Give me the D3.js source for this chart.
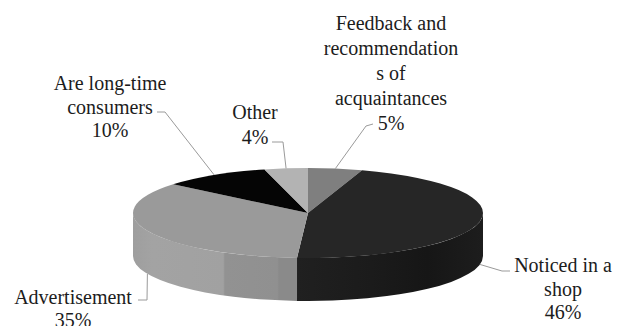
<!DOCTYPE html>
<html>
<head>
<meta charset="utf-8">
<script src="https://cdn.jsdelivr.net/npm/d3@7"></script>
</head>
<body style="margin:0;background:#fff">
<script>
// data
var categories = ["Feedback and recommendations of acquaintances", "Noticed in a shop", "Advertisement", "Are long-time consumers", "Other"];
var values = [5, 46, 35, 10, 4];
var labelText = [
    ["Feedback and", "recommendation", "s of", "acquaintances"],
    ["Noticed in a", "shop"],
    ["Advertisement"],
    ["Are long-time", "consumers"],
    ["Other"]
];

// styles
var topColors = ["#7f7f7f", "#262626", "#9a9a9a", "#050505", "#b3b3b3"];
var sideGrad = [
    null,
    [["0%", "#202020"], ["40%", "#1b1b1b"], ["70%", "#161616"], ["100%", "#1d1d1d"]],
    [["0%", "#9e9e9e"], ["12%", "#a3a3a3"], ["55%", "#a1a1a1"], ["56%", "#929292"], ["88%", "#909090"], ["89%", "#8a8a8a"], ["100%", "#8a8a8a"]],
    null,
    null
];

// label layout: text center x, first baseline y, line height, leader elbow and end
var labelLayout = [
    { x: 391, y: 30, lh: 25, elbow: [366, 126], end: [373, 124] },
    { x: 563, y: 272, lh: 23.5, elbow: [502, 271], end: [510, 271] },
    { x: 73, y: 304, lh: 23, elbow: [147, 300], end: [138, 300] },
    { x: 110, y: 90, lh: 23.5, elbow: [165, 112], end: [157, 112] },
    { x: 255, y: 119, lh: 25, elbow: [283, 142], end: [272, 142] }
];

var width = 626, height = 326;
var cx = 308, cy = 213, rx = 175, ry = 45, depth = 43;
var labelFont = "'Times New Roman', Tinos, 'Liberation Serif', serif";

var svg = d3.select("body").append("svg")
    .attr("width", width)
    .attr("height", height)
    .style("display", "block")
    .style("font-family", labelFont);

var defs = svg.append("defs");

var pie = d3.pie().sort(null).value(function (d) { return d; });
var arcs = pie(values);

function px(a) { return cx + rx * Math.sin(a); }
function py(a) { return cy - ry * Math.cos(a); }

function topPath(d) {
    var large = (d.endAngle - d.startAngle) > Math.PI ? 1 : 0;
    return "M" + cx + "," + cy +
        "L" + px(d.startAngle) + "," + py(d.startAngle) +
        "A" + rx + "," + ry + " 0 " + large + " 1 " + px(d.endAngle) + "," + py(d.endAngle) + "Z";
}

function sidePath(a0, a1) {
    return "M" + px(a0) + "," + py(a0) +
        "A" + rx + "," + ry + " 0 0 1 " + px(a1) + "," + py(a1) +
        "L" + px(a1) + "," + (py(a1) + depth) +
        "A" + rx + "," + ry + " 0 0 0 " + px(a0) + "," + (py(a0) + depth) + "Z";
}

// sides (front half only)
var sides = svg.append("g");
arcs.forEach(function (d, i) {
    var a0 = Math.max(d.startAngle, Math.PI / 2);
    var a1 = Math.min(d.endAngle, 3 * Math.PI / 2);
    if (a1 <= a0) return;
    var fill = d3.color(topColors[i]).darker(0.3);
    if (sideGrad[i]) {
        var g = defs.append("linearGradient")
            .attr("id", "side" + i)
            .attr("gradientUnits", "userSpaceOnUse")
            .attr("x1", Math.min(px(a0), px(a1))).attr("x2", Math.max(px(a0), px(a1)))
            .attr("y1", 0).attr("y2", 0);
        g.selectAll("stop").data(sideGrad[i]).enter().append("stop")
            .attr("offset", function (s) { return s[0]; })
            .attr("stop-color", function (s) { return s[1]; });
        fill = "url(#side" + i + ")";
    }
    sides.append("path")
        .attr("d", sidePath(a0, a1))
        .attr("fill", fill);
});

// top faces
svg.append("g").selectAll("path")
    .data(arcs)
    .enter()
    .append("path")
    .attr("d", topPath)
    .attr("fill", function (d, i) { return topColors[i]; });

// leader lines
var total = d3.sum(values);
svg.append("g").selectAll("polyline")
    .data(arcs)
    .enter()
    .append("polyline")
    .attr("points", function (d, i) {
        var mid = (d.startAngle + d.endAngle) / 2;
        var ax = px(mid), ay = py(mid);
        if (Math.cos(mid) < 0) ay += depth;
        var L = labelLayout[i];
        return [[ax, ay], L.elbow, L.end].map(function (p) { return p.join(","); }).join(" ");
    })
    .attr("fill", "none")
    .attr("stroke", "#9a9a9a")
    .attr("stroke-width", 1);

// labels, one text per line
var labelRows = [];
arcs.forEach(function (d, i) {
    var L = labelLayout[i];
    var lines = labelText[i].concat([Math.round(values[i] / total * 100) + "%"]);
    lines.forEach(function (t, j) {
        labelRows.push({ text: t, x: L.x, y: L.y + j * L.lh });
    });
});

svg.selectAll("text.lbl")
    .data(labelRows)
    .enter()
    .append("text")
    .attr("class", "lbl")
    .attr("x", function (r) { return r.x; })
    .attr("y", function (r) { return r.y; })
    .attr("text-anchor", "middle")
    .style("font-family", labelFont)
    .style("font-size", "20px")
    .attr("fill", "#1c1c1c")
    .text(function (r) { return r.text; });
</script>
</body>
</html>
